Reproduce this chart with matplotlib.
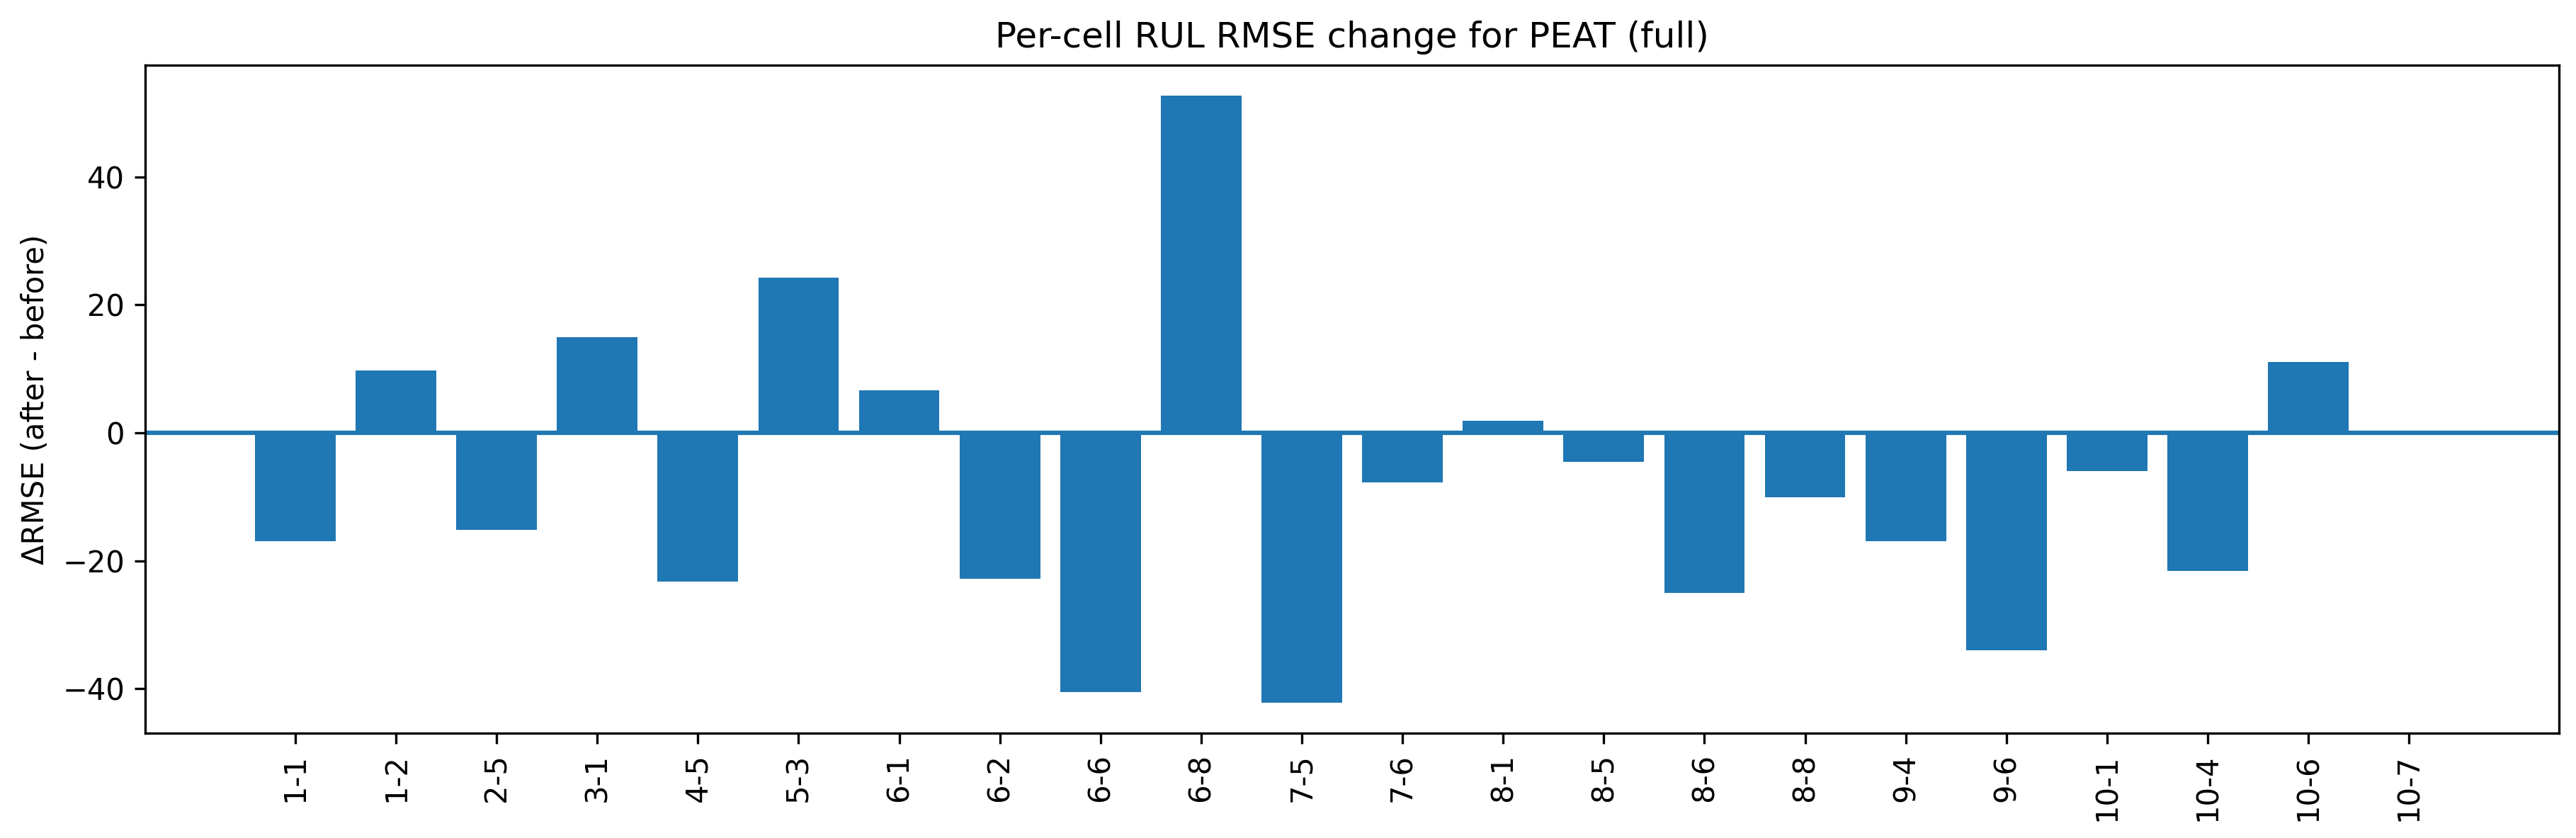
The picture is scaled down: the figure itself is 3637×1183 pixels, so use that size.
import numpy as np
import matplotlib
matplotlib.use("Agg")
import matplotlib.pyplot as plt


cells = ["1-1", "1-2", "2-5", "3-1", "4-5", "5-3", "6-1", "6-2", "6-6", "6-8", "7-5",
         "7-6", "8-1", "8-5", "8-6", "8-8", "9-4", "9-6", "10-1", "10-4", "10-6", "10-7"]
delta_rmse = [-16.9, 9.7, -15.2, 14.9, -23.2, 24.2, 6.6, -22.8, -40.5, 52.7, -42.2,
              -7.7, 1.9, -4.5, -25.0, -10.1, -16.9, -34.0, -6.0, -21.6, 11.1, 0.0]


def main():
    fig, ax = plt.subplots(figsize=(3637 / 300, 1183 / 300), dpi=300)
    x = np.arange(len(cells))
    ax.bar(x, delta_rmse)
    ax.axhline(0)
    ax.set_xticks(x)
    ax.set_xticklabels(cells, rotation=90)
    ax.set_ylabel("\u0394RMSE (after - before)")
    ax.set_title("Per-cell RUL RMSE change for PEAT (full)")
    fig.subplots_adjust(left=0.0564, right=0.9934, top=0.9222, bottom=0.1251)
    fig.savefig("out.png", dpi=300)


if __name__ == "__main__":
    main()
